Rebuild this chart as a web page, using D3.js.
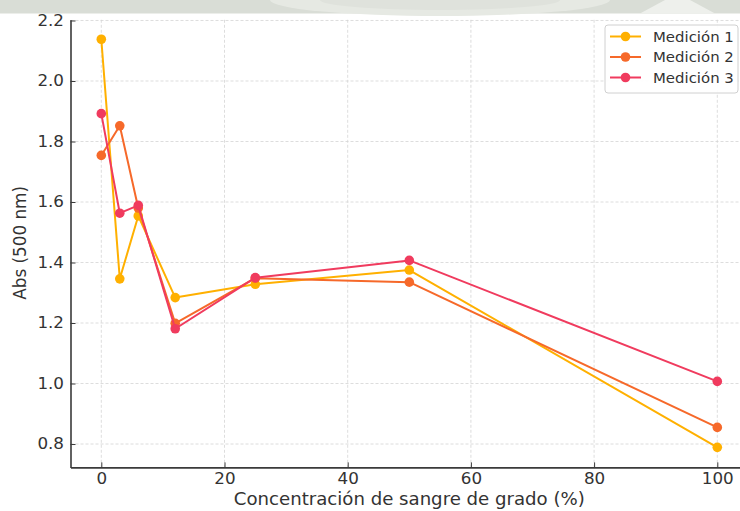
<!DOCTYPE html>
<html><head><meta charset="utf-8">
<script src="https://cdn.jsdelivr.net/npm/d3@7"></script>
<style>
html,body{margin:0;padding:0;background:#fff;}
svg{display:block;font-family:"DejaVu Sans",sans-serif;}
</style></head>
<body><svg id="c" width="740" height="511"></svg>
<script>
const concentrations = [0, 3, 6, 12, 25, 50, 100];
const medicion1 = [2.138, 1.346, 1.554, 1.284, 1.328, 1.375, 0.789];
const medicion2 = [1.754, 1.852, 1.580, 1.199, 1.348, 1.335, 0.855];
const medicion3 = [1.892, 1.563, 1.589, 1.181, 1.350, 1.407, 1.007];
const seriesNames = ["Medición 1", "Medición 2", "Medición 3"];
const xTicks = [0, 20, 40, 60, 80, 100];
const yTicks = [0.8, 1.0, 1.2, 1.4, 1.6, 1.8, 2.0, 2.2];
const colors = ["#FFB000", "#F6692A", "#F03B5E"];

const svg = d3.select("#c");
const plotLeft = 70.5, plotBottom = 467.4, plotTop = 19.8;
const sx = 1.08; // horizontal stretch of text
const x = d3.scaleLinear().domain([-5, 105]).range([plotLeft, plotLeft + 110 * 6.16]);
const y = d3.scaleLinear().domain([0.7227, 2.2023]).range([plotBottom, plotTop]);

// grid
const g = svg.append("g");
g.selectAll(".gx").data(xTicks).enter().append("line")
  .attr("x1", d => x(d)).attr("x2", d => x(d)).attr("y1", plotTop).attr("y2", plotBottom)
  .attr("stroke", "#d4d4d4").attr("stroke-width", 0.8).attr("stroke-dasharray", "3,2");
g.selectAll(".gy").data(yTicks).enter().append("line")
  .attr("x1", plotLeft).attr("x2", 740).attr("y1", d => y(d)).attr("y2", d => y(d))
  .attr("stroke", "#d4d4d4").attr("stroke-width", 0.8).attr("stroke-dasharray", "3,2");

// axes
const xAxis = d3.axisBottom(x).tickValues(xTicks).tickFormat(d3.format("d")).tickSizeInner(-5).tickSizeOuter(0).tickPadding(6);
const yAxis = d3.axisLeft(y).tickValues(yTicks).tickFormat(d3.format(".1f")).tickSizeInner(-5).tickSizeOuter(0).tickPadding(6.5);
const gx = svg.append("g").attr("transform", `translate(0,${plotBottom})`).call(xAxis);
const gy = svg.append("g").attr("transform", `translate(${plotLeft},0)`).call(yAxis);
[gx, gy].forEach(a => {
  a.select(".domain").attr("stroke", "#3a3a3a").attr("stroke-width", 1.6);
  a.selectAll(".tick line").attr("stroke", "#3a3a3a").attr("stroke-width", 1);
  a.selectAll(".tick text").attr("fill", "#333").attr("font-size", 15.5).attr("font-family", "DejaVu Sans")
    .attr("transform", `scale(${sx},1)`);
});
gy.selectAll(".tick text").attr("x", -6.5 / sx);

svg.append("text").attr("transform", `translate(${x(50)},505) scale(${sx},1)`).attr("text-anchor", "middle")
  .attr("font-size", 16.8).attr("fill", "#333").text("Concentración de sangre de grado (%)");
svg.append("text").attr("transform", `translate(26,${y(1.465)}) rotate(-90) scale(1,${sx})`).attr("text-anchor", "middle")
  .attr("font-size", 16.8).attr("fill", "#333").text("Abs (500 nm)");

// series
const data = [medicion1, medicion2, medicion3];
const line = d3.line().x((d, i) => x(concentrations[i])).y(d => y(d));
data.forEach((vals, k) => {
  const s = svg.append("g");
  s.append("path").datum(vals).attr("d", line).attr("fill", "none")
    .attr("stroke", colors[k]).attr("stroke-width", 2).attr("stroke-linejoin", "round");
  s.selectAll("circle").data(vals).enter().append("circle")
    .attr("cx", (d, i) => x(concentrations[i])).attr("cy", d => y(d)).attr("r", 4.8)
    .attr("fill", colors[k]);
});

// legend
const lg = svg.append("g");
lg.append("rect").attr("x", 605).attr("y", 25).attr("width", 133).attr("height", 68).attr("rx", 3)
  .attr("fill", "#fff").attr("fill-opacity", 0.9).attr("stroke", "#d0d0d0").attr("stroke-width", 1);
seriesNames.forEach((n, k) => {
  const yy = 36.5 + k * 20.5;
  lg.append("line").attr("x1", 610).attr("x2", 641).attr("y1", yy).attr("y2", yy)
    .attr("stroke", colors[k]).attr("stroke-width", 2);
  lg.append("circle").attr("cx", 625.5).attr("cy", yy).attr("r", 4.8).attr("fill", colors[k]);
  lg.append("text").attr("transform", `translate(653,${yy + 5}) scale(1.03,1)`).attr("font-size", 14.5)
    .attr("fill", "#333").text(n);
});

// top watermark band
const band = svg.append("g");
band.append("rect").attr("x", 0).attr("y", 0).attr("width", 740).attr("height", 13.5).attr("fill", "#d9ddd6");
band.append("ellipse").attr("cx", 440).attr("cy", 0).attr("rx", 170).attr("ry", 16).attr("fill", "#e6e9e3");
band.append("ellipse").attr("cx", 440).attr("cy", 0).attr("rx", 120).attr("ry", 10).attr("fill", "#dfe2dc");
band.append("path").attr("d", "M640,13.5 L665,0 L690,0 L715,13.5 Z").attr("fill", "#eef0ec");
</script></body></html>
